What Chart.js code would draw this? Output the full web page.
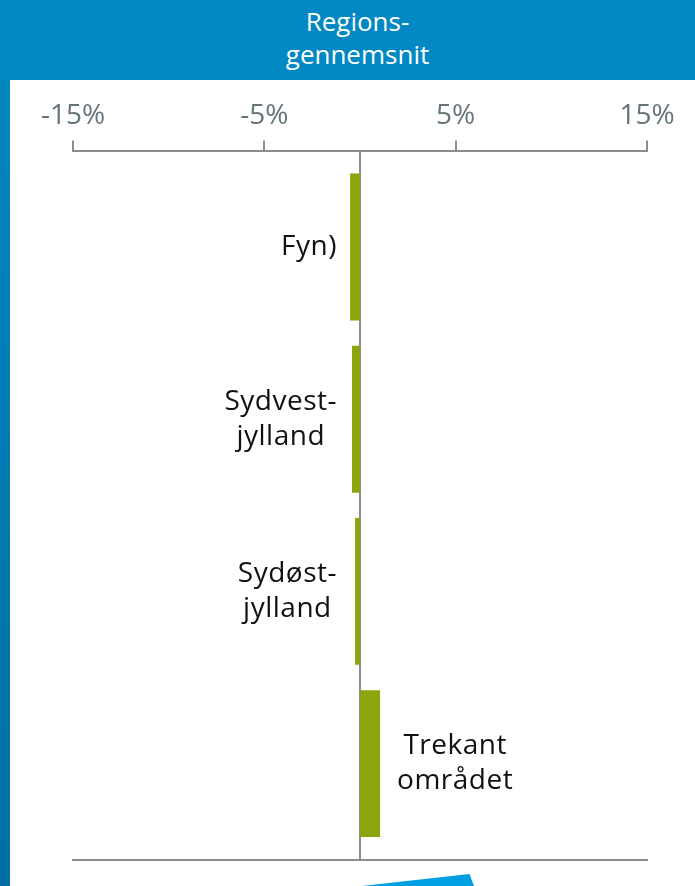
<!DOCTYPE html>
<html>
<head>
<meta charset="utf-8">
<script src="https://cdn.jsdelivr.net/npm/chart.js@4"></script>
<style>
  html, body { margin: 0; padding: 0; background: #fff; }
  body { width: 695px; height: 886px; position: relative; overflow: hidden; font-family: "Open Sans", sans-serif; }
  #head { position: absolute; left: 0; top: 0; width: 695px; height: 80px; background: #0289c4; }
  #head div { position: absolute; left: 0; width: 715px; text-align: center; color: #fff; font-size: 26px; line-height: 33px; }
  #strip { position: absolute; left: 0; top: 80px; width: 10px; height: 806px; background: linear-gradient(#0286c0, #006ea4); }
  #wrap { position: absolute; left: 0; top: 0; width: 695px; height: 886px; }
  #shape { position: absolute; left: 362px; top: 874px; width: 112px; height: 12px; background: #009fe1; clip-path: polygon(0 100%, 96% 0, 100% 100%); }
</style>
</head>
<body>
<div id="wrap"><canvas id="chart"></canvas></div>
<div id="head"><div style="top:5px">Regions-</div><div style="top:38px">gennemsnit</div></div>
<div id="strip"></div>
<div id="shape"></div>
<script>
const categories = [["Fyn)"], ["Sydvest-", "jylland"], ["Sydøst-", "jylland"], ["Trekant", "området"]];
const values = [-0.52, -0.42, -0.26, 1.05];
const tickValues = [-15, -5, 5, 15];

const gray = "#8a8c8e";

// tekst ved siden af søjlerne
const barLabels = {
  id: "barLabels",
  afterDatasetsDraw(chart) {
    const ctx = chart.ctx;
    const meta = chart.getDatasetMeta(0);
    const zero = chart.scales.x.getPixelForValue(0);
    ctx.save();
    ctx.font = '28px "Open Sans"';
    ctx.letterSpacing = "0.5px";
    ctx.fillStyle = "#111";
    ctx.textAlign = "center";
    ctx.textBaseline = "middle";
    meta.data.forEach((bar, i) => {
      const lines = categories[i];
      const w = Math.max(...lines.map(l => ctx.measureText(l).width));
      let cx;
      if (values[i] < 0) cx = zero - 23 - w / 2;
      else cx = bar.x + 17 + w / 2;
      const lh = 35;
      const y0 = bar.y - (lines.length - 1) * lh / 2;
      lines.forEach((l, j) => ctx.fillText(l, cx, y0 + j * lh));
    });
    ctx.restore();
  }
};

new Chart(document.getElementById("chart"), {
  type: "bar",
  data: {
    datasets: [{
      data: values.map((v, i) => ({ x: v, y: i })),
      backgroundColor: "#8aa50e",
      borderWidth: 0,
      barPercentage: 0.853,
      categoryPercentage: 1
    }]
  },
  options: {
    indexAxis: "y",
    responsive: true,
    maintainAspectRatio: false,
    animation: false,
    layout: { padding: { left: 73, right: 48, top: 91, bottom: 18 } },
    plugins: { legend: { display: false }, tooltip: { enabled: false } },
    scales: {
      x: {
        type: "linear",
        position: "top",
        min: -15,
        max: 15,
        afterBuildTicks: (axis) => { axis.ticks = tickValues.map(v => ({ value: v })); },
        ticks: {
          color: "#65737a",
          font: { family: "Open Sans", size: 28 },
          padding: 8,
          maxRotation: 0,
          callback: (v) => v + "%"
        },
        grid: { drawOnChartArea: false, tickLength: 10, color: gray, lineWidth: 2 },
        border: { color: gray, width: 2 }
      },
      x2: {
        type: "linear",
        position: "bottom",
        min: -15,
        max: 15,
        ticks: { display: false },
        grid: { display: false },
        border: { color: gray, width: 2 }
      },
      y: {
        type: "linear",
        position: { x: 0 },
        reverse: true,
        offset: false,
        min: -0.56,
        max: 3.56,
        afterBuildTicks: (axis) => { axis.ticks = categories.map((c, i) => ({ value: i })); },
        ticks: { display: false },
        grid: { display: false },
        border: { color: gray, width: 2 }
      }
    }
  },
  plugins: [barLabels]
});
</script>
</body>
</html>
